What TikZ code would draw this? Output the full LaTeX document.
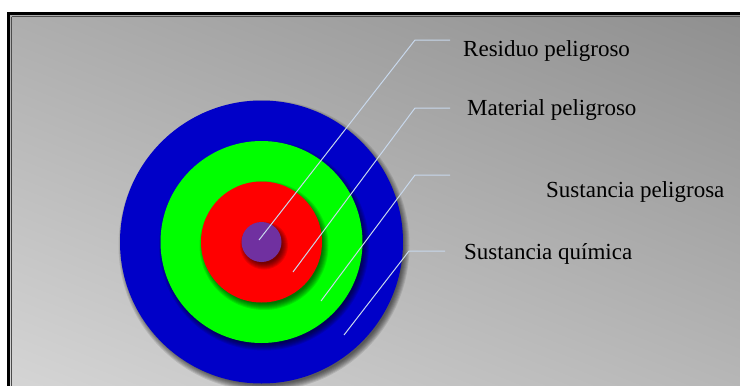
\documentclass[tikz,border=0pt]{standalone}
\usepackage{fontspec}
\setmainfont{Liberation Serif}
\usetikzlibrary{calc}
\begin{document}
\begin{tikzpicture}[x=1pt,y=-1pt,
  lbl/.style={anchor=base west,inner sep=0pt,font=\fontsize{23}{27}\selectfont,text=black},
  lead/.style={draw=leadc,line width=1pt}]
\definecolor{leadc}{HTML}{C8D8EC}
\definecolor{bgdark}{HTML}{8F8F8F}
\definecolor{bglight}{HTML}{D5D5D5}
\definecolor{discblue}{HTML}{0000C8}
\definecolor{discgreen}{HTML}{00FF00}
\definecolor{discred}{HTML}{FF0000}
\definecolor{discpurple}{HTML}{7030A0}
\useasboundingbox (0,0) rectangle (740,386);
\fill[white] (0,0) rectangle (740,386);
% background panel with diagonal gradient
\coordinate (pc) at (374.5,200);
\begin{scope}
  \clip (9,14) rectangle (745,391);
  \shade[top color=bgdark,bottom color=bglight,
    transform canvas={rotate around={-21.5:(pc)}}]
    ($(pc)+(-430,-307)$) rectangle ($(pc)+(430,307)$);
\end{scope}
\draw[gray!60!black,line width=1pt] (11.5,16.5) -- (11.5,391);
\draw[gray!60!black,line width=1pt] (11.5,16.5) -- (745,16.5);
\draw[black,line width=3pt] (8.5,400) -- (8.5,13.5) -- (750,13.5);
% discs with soft shadows
\coordinate (c) at (261.5,242);
\foreach \r/\col in {141.5/discblue,101/discgreen,60.5/discred,20/discpurple}{
  \foreach \k in {-2,...,4}{
    \fill[black,opacity=0.1] ($(c)+(2.5,3.5)$) circle[radius=\r+\k];
  }
  \fill[\col] (c) circle[radius=\r];
}
% labels
\node[lbl] (res) at (463,56) {Residuo peligroso};
\node[lbl] (mat) at (467,115) {Material peligroso};
\node[lbl] (sup) at (546,197) {Sustancia peligrosa};
\node[lbl] (squ) at (464,259) {Sustancia química};
% leader coordinates
\coordinate (r0) at (259,240); \coordinate (r1) at (415,40); \coordinate (r2) at (450,40);
\coordinate (m0) at (293,272); \coordinate (m1) at (415,108); \coordinate (m2) at (450,108);
\coordinate (p0) at (321,301); \coordinate (p1) at (415,175); \coordinate (p2) at (450,175);
\coordinate (q0) at (344,335); \coordinate (q1) at (409,251); \coordinate (q2) at (445,251);
\draw[lead] (r0) -- (r1) -- (r2);
\draw[lead] (m0) -- (m1) -- (m2);
\draw[lead] (p0) -- (p1) -- (p2);
\draw[lead] (q0) -- (q1) -- (q2);
\end{tikzpicture}
\end{document}
